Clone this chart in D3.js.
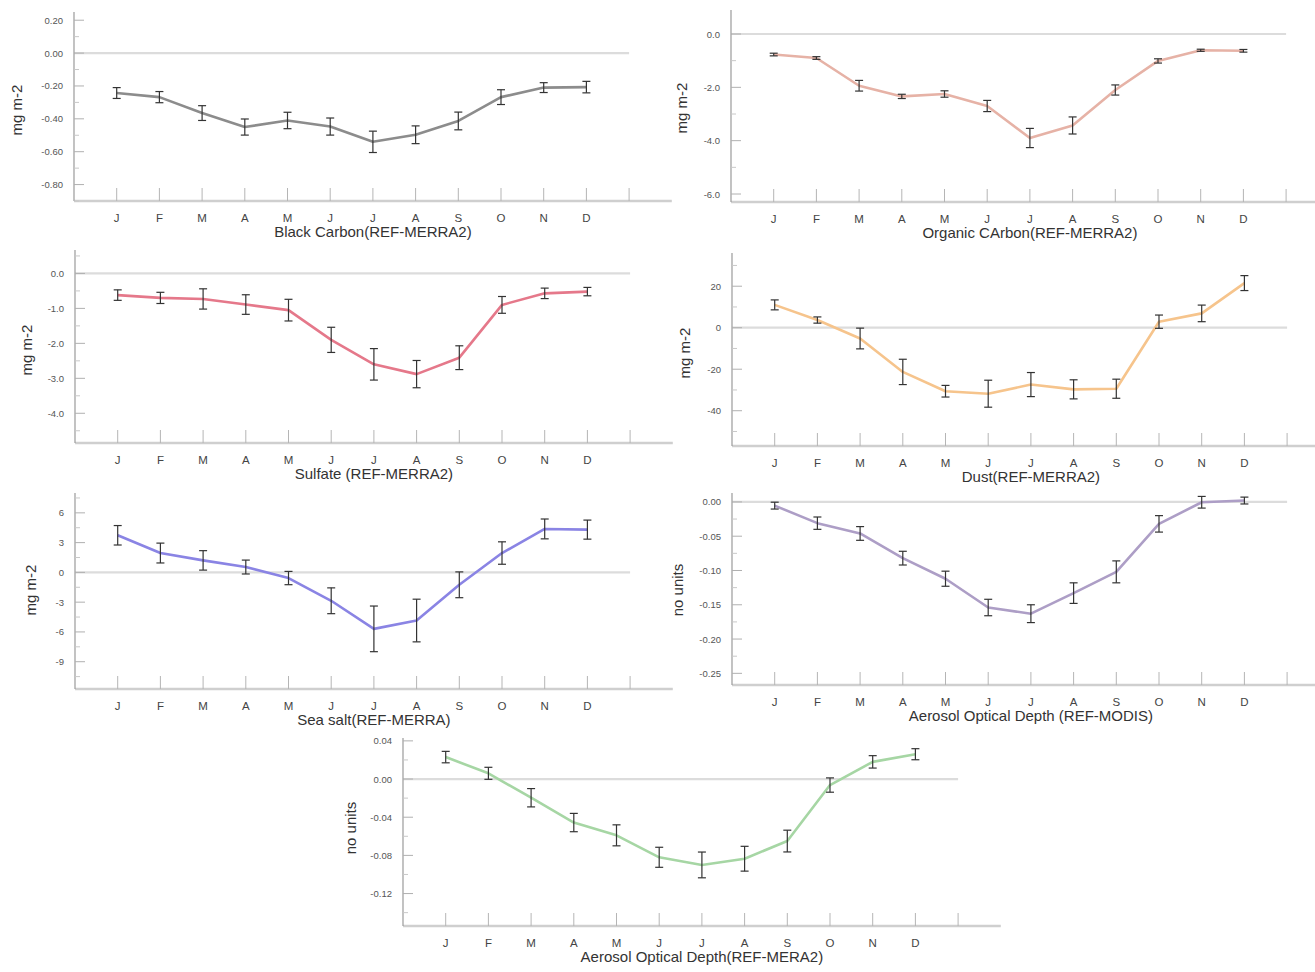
<!DOCTYPE html>
<html>
<head>
<meta charset="utf-8">
<script src="https://cdn.jsdelivr.net/npm/d3@7/dist/d3.min.js"></script>
<style>
  html, body { margin: 0; padding: 0; background: #ffffff; }
  svg { display: block; }
  text { font-family: "Liberation Sans", Arial, sans-serif; }
</style>
</head>
<body>
<svg id="chart" width="1315" height="972"></svg>
<script>
// ---------- data ----------
const months = ["J","F","M","A","M","J","J","A","S","O","N","D"];

const bcMean = [-0.243,-0.268,-0.365,-0.45,-0.41,-0.447,-0.54,-0.497,-0.413,-0.268,-0.21,-0.207];
const bcErr  = [0.033,0.034,0.045,0.049,0.05,0.052,0.065,0.054,0.054,0.045,0.03,0.035];

const ocMean = [-0.77,-0.90,-1.94,-2.34,-2.25,-2.70,-3.90,-3.43,-2.10,-1.01,-0.61,-0.63];
const ocErr  = [0.05,0.05,0.2,0.08,0.12,0.21,0.36,0.32,0.19,0.08,0.04,0.05];

const so4Mean = [-0.62,-0.70,-0.73,-0.89,-1.05,-1.90,-2.60,-2.88,-2.41,-0.90,-0.57,-0.52];
const so4Err  = [0.15,0.16,0.29,0.28,0.31,0.36,0.45,0.39,0.34,0.24,0.15,0.12];

const dustMean = [11.0,3.7,-5.2,-21.3,-30.6,-31.8,-27.4,-29.7,-29.4,2.9,6.9,21.5];
const dustErr  = [2.4,1.5,5.0,6.1,2.8,6.5,5.8,4.6,4.6,3.2,4.0,3.6];

const ssMean = [3.74,1.95,1.21,0.54,-0.57,-2.86,-5.69,-4.85,-1.25,1.95,4.38,4.31];
const ssErr  = [0.98,1.0,0.98,0.7,0.67,1.3,2.3,2.15,1.3,1.13,1.0,0.96];

const aodModisMean = [-0.0054,-0.031,-0.046,-0.082,-0.112,-0.154,-0.163,-0.133,-0.102,-0.032,-0.0005,0.002];
const aodModisErr  = [0.005,0.009,0.01,0.01,0.011,0.012,0.013,0.015,0.016,0.012,0.0085,0.005];

const aodMerraMean = [0.023,0.006,-0.0196,-0.0456,-0.059,-0.082,-0.090,-0.0835,-0.065,-0.0063,0.018,0.026];
const aodMerraErr  = [0.006,0.0063,0.0096,0.0096,0.011,0.0105,0.0135,0.013,0.0114,0.0075,0.0065,0.0058];

const bcTicks = [0.2,0,-0.2,-0.4,-0.6,-0.8];
const bcTickLabels = ["0.20","0.00","-0.20","-0.40","-0.60","-0.80"];
const ocTicks = [0,-2,-4,-6];
const ocTickLabels = ["0.0","-2.0","-4.0","-6.0"];
const so4Ticks = [0,-1,-2,-3,-4];
const so4TickLabels = ["0.0","-1.0","-2.0","-3.0","-4.0"];
const dustTicks = [20,0,-20,-40];
const dustTickLabels = ["20","0","-20","-40"];
const ssTicks = [6,3,0,-3,-6,-9];
const ssTickLabels = ["6","3","0","-3","-6","-9"];
const modisTicks = [0,-0.05,-0.1,-0.15,-0.2,-0.25];
const modisTickLabels = ["0.00","-0.05","-0.10","-0.15","-0.20","-0.25"];
const merraTicks = [0.04,0,-0.04,-0.08,-0.12];
const merraTickLabels = ["0.04","0.00","-0.04","-0.08","-0.12"];

const titles = [
  "Black Carbon(REF-MERRA2)",
  "Organic CArbon(REF-MERRA2)",
  "Sulfate (REF-MERRA2)",
  "Dust(REF-MERRA2)",
  "Sea salt(REF-MERRA)",
  "Aerosol Optical Depth (REF-MODIS)",
  "Aerosol Optical Depth(REF-MERA2)"
];
const yLabels = ["mg m-2","mg m-2","mg m-2","mg m-2","mg m-2","no units","no units"];

// ---------- layout ----------
const step = 42.7;
const panels = [
  {mean: bcMean, err: bcErr, ticks: bcTicks, labels: bcTickLabels, minor: 0.1, domain: [-0.9, 0.25],
   x0: 74, top: 12, bottom: 201, color: "#8c8c8c", ylx: 18, yly: 110},
  {mean: ocMean, err: ocErr, ticks: ocTicks, labels: ocTickLabels, minor: 1, domain: [-6.3, 0.9],
   x0: 731, top: 10, bottom: 202, color: "#e6b2a6", ylx: 683, yly: 108},
  {mean: so4Mean, err: so4Err, ticks: so4Ticks, labels: so4TickLabels, minor: 0.5, domain: [-4.85, 0.67],
   x0: 75, top: 250, bottom: 443, color: "#e5788a", ylx: 28, yly: 350},
  {mean: dustMean, err: dustErr, ticks: dustTicks, labels: dustTickLabels, minor: 10, domain: [-57, 36],
   x0: 732, top: 253, bottom: 446, color: "#f6c48c", ylx: 686, yly: 353},
  {mean: ssMean, err: ssErr, ticks: ssTicks, labels: ssTickLabels, minor: 1.5, domain: [-11.75, 8],
   x0: 75, top: 493, bottom: 689, color: "#8a84e4", ylx: 32, yly: 590},
  {mean: aodModisMean, err: aodModisErr, ticks: modisTicks, labels: modisTickLabels, minor: 0.025, domain: [-0.267, 0.013],
   x0: 732, top: 493, bottom: 685, color: "#ad9ec6", ylx: 679, yly: 590},
  {mean: aodMerraMean, err: aodMerraErr, ticks: merraTicks, labels: merraTickLabels, minor: 0.02, domain: [-0.154, 0.043],
   x0: 403, top: 738, bottom: 926, color: "#a6d6a4", ylx: 352, yly: 828}
];

const svg = d3.select("#chart");

panels.forEach((p, pi) => {
  const x = d3.scaleLinear().domain([0, 14]).range([p.x0, p.x0 + 14 * step]);
  const y = d3.scaleLinear().domain(p.domain).range([p.bottom, p.top]);
  const g = svg.append("g");

  // zero line
  g.append("line")
    .attr("x1", x(0)).attr("x2", x(13))
    .attr("y1", y(0)).attr("y2", y(0))
    .attr("stroke", "#dcdcdc").attr("stroke-width", 2.2);

  // x axis line
  g.append("line")
    .attr("x1", x(0)).attr("x2", x(14))
    .attr("y1", p.bottom).attr("y2", p.bottom)
    .attr("stroke", "#cfcfcf").attr("stroke-width", 2.5);

  // x ticks (inside, upward)
  const xt = d3.range(1, 14);
  g.selectAll(".xt").data(xt).enter().append("line")
    .attr("x1", d => x(d)).attr("x2", d => x(d))
    .attr("y1", p.bottom - 13).attr("y2", p.bottom)
    .attr("stroke", "#b5b5b5").attr("stroke-width", 1);

  // month labels
  g.selectAll(".ml").data(months).enter().append("text")
    .attr("x", (d, i) => x(i + 1)).attr("y", p.bottom + 21)
    .attr("text-anchor", "middle").attr("font-size", 11.5)
    .attr("fill", "#444").text(d => d);

  // y axis line
  g.append("line")
    .attr("x1", p.x0).attr("x2", p.x0)
    .attr("y1", p.top).attr("y2", p.bottom)
    .attr("stroke", "#9a9a9a").attr("stroke-width", 1.2);

  // minor y ticks
  const lo = p.domain[0], hi = p.domain[1];
  const minorVals = d3.range(Math.ceil(lo / p.minor) * p.minor, hi + 1e-9, p.minor)
    .filter(v => !p.ticks.some(t => Math.abs(t - v) < 1e-9));
  g.selectAll(".mt").data(minorVals).enter().append("line")
    .attr("x1", p.x0).attr("x2", p.x0 + 5)
    .attr("y1", d => y(d)).attr("y2", d => y(d))
    .attr("stroke", "#c8c8c8").attr("stroke-width", 1);

  // major y ticks
  g.selectAll(".yt").data(p.ticks).enter().append("line")
    .attr("x1", p.x0).attr("x2", p.x0 + 10)
    .attr("y1", d => y(d)).attr("y2", d => y(d))
    .attr("stroke", "#b0b0b0").attr("stroke-width", 1);

  g.selectAll(".yl").data(p.ticks).enter().append("text")
    .attr("x", p.x0 - 11).attr("y", d => y(d) + 3.5)
    .attr("text-anchor", "end").attr("font-size", 9.5)
    .attr("fill", "#555").text((d, i) => p.labels[i]);

  // y label
  g.append("text")
    .attr("transform", `translate(${p.ylx},${p.yly}) rotate(-90)`)
    .attr("text-anchor", "middle").attr("dominant-baseline", "middle")
    .attr("font-size", 15).attr("fill", "#333").text(yLabels[pi]);

  // x label (title)
  g.append("text")
    .attr("x", x(7)).attr("y", p.bottom + 36)
    .attr("text-anchor", "middle").attr("font-size", 15)
    .attr("fill", "#333").text(titles[pi]);

  // series line
  const line = d3.line().x((d, i) => x(i + 1)).y(d => y(d));
  g.append("path").datum(p.mean)
    .attr("d", line).attr("fill", "none")
    .attr("stroke", p.color).attr("stroke-width", 2.6)
    .attr("stroke-linejoin", "round");

  // error bars
  const eb = g.selectAll(".eb").data(p.mean).enter().append("g");
  eb.append("line")
    .attr("x1", (d, i) => x(i + 1)).attr("x2", (d, i) => x(i + 1))
    .attr("y1", (d, i) => y(d - p.err[i])).attr("y2", (d, i) => y(d + p.err[i]))
    .attr("stroke", "#333").attr("stroke-width", 1.2);
  eb.append("line")
    .attr("x1", (d, i) => x(i + 1) - 4).attr("x2", (d, i) => x(i + 1) + 4)
    .attr("y1", (d, i) => y(d + p.err[i])).attr("y2", (d, i) => y(d + p.err[i]))
    .attr("stroke", "#333").attr("stroke-width", 1.2);
  eb.append("line")
    .attr("x1", (d, i) => x(i + 1) - 4).attr("x2", (d, i) => x(i + 1) + 4)
    .attr("y1", (d, i) => y(d - p.err[i])).attr("y2", (d, i) => y(d - p.err[i]))
    .attr("stroke", "#333").attr("stroke-width", 1.2);
});
</script>
</body>
</html>
